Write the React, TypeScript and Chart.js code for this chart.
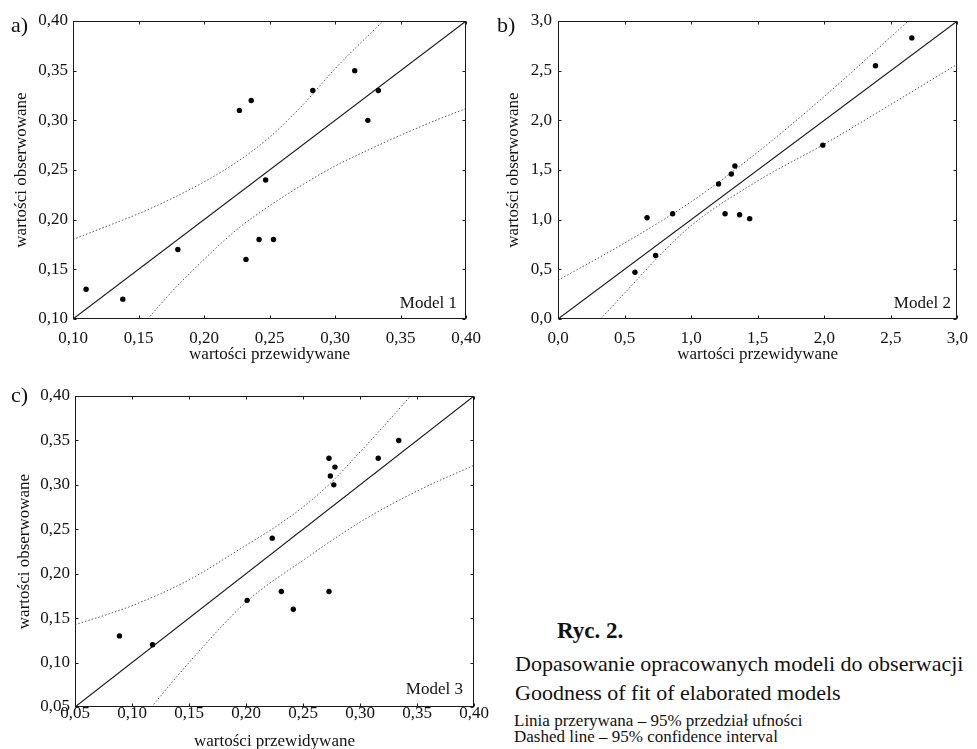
import React, { useEffect, useRef } from "react";
import { Chart, registerables } from "chart.js";

Chart.register(...registerables);

const FONT = "Liberation Serif, Times New Roman, serif";
Chart.defaults.font.family = FONT;
Chart.defaults.font.size = 17;
Chart.defaults.color = "#111";

// ---------- Panel a (Model 1) ----------
const aPredicted = [0.110, 0.138, 0.180, 0.227, 0.236, 0.232, 0.242, 0.247, 0.253, 0.283, 0.315, 0.325, 0.333];
const aObserved = [0.13, 0.12, 0.17, 0.31, 0.32, 0.16, 0.18, 0.24, 0.18, 0.33, 0.35, 0.30, 0.33];
const aUpperX = [0.10, 0.125, 0.15, 0.175, 0.20, 0.225, 0.25, 0.275, 0.30, 0.325, 0.34];
const aUpperY = [0.180, 0.193, 0.206, 0.221, 0.238, 0.258, 0.283, 0.315, 0.352, 0.385, 0.404];
const aLowerX = [0.157, 0.175, 0.20, 0.225, 0.25, 0.275, 0.30, 0.325, 0.35, 0.375, 0.40];
const aLowerY = [0.100, 0.127, 0.160, 0.190, 0.214, 0.235, 0.254, 0.270, 0.285, 0.299, 0.312];
const aTicks = [0.10, 0.15, 0.20, 0.25, 0.30, 0.35, 0.40];

// ---------- Panel b (Model 2) ----------
const bPredicted = [0.578, 0.669, 0.733, 0.861, 1.206, 1.255, 1.302, 1.329, 1.364, 1.440, 1.989, 2.385, 2.658];
const bObserved = [0.47, 1.02, 0.64, 1.06, 1.36, 1.06, 1.46, 1.54, 1.05, 1.01, 1.75, 2.55, 2.83];
const bUpperX = [0.0, 0.5, 1.0, 1.5, 2.0, 2.5, 2.64];
const bUpperY = [0.39, 0.765, 1.18, 1.68, 2.24, 2.84, 3.01];
const bLowerX = [0.32, 0.5, 0.75, 1.0, 1.5, 2.0, 2.5, 3.0];
const bLowerY = [0.0, 0.26, 0.62, 0.94, 1.39, 1.76, 2.16, 2.565];
const bTicks = [0.0, 0.5, 1.0, 1.5, 2.0, 2.5, 3.0];

// ---------- Panel c (Model 3) ----------
const cPredicted = [0.089, 0.118, 0.201, 0.223, 0.231, 0.2415, 0.2728, 0.2728, 0.274, 0.278, 0.277, 0.316, 0.334];
const cObserved = [0.13, 0.12, 0.17, 0.24, 0.18, 0.16, 0.33, 0.18, 0.31, 0.32, 0.30, 0.33, 0.35];
const cUpperX = [0.05, 0.10, 0.15, 0.20, 0.225, 0.25, 0.275, 0.30, 0.325, 0.345];
const cUpperY = [0.1425, 0.164, 0.193, 0.232, 0.252, 0.275, 0.303, 0.337, 0.372, 0.401];
const cLowerX = [0.117, 0.15, 0.20, 0.25, 0.30, 0.35, 0.40];
const cLowerY = [0.05, 0.10, 0.168, 0.215, 0.258, 0.293, 0.322];
const cTicks = [0.05, 0.10, 0.15, 0.20, 0.25, 0.30, 0.35, 0.40];

const xTitle = "wartości przewidywane";
const yTitle = "wartości obserwowane";

type PanelDef = {
  px: number[]; py: number[];
  ux: number[]; uy: number[];
  lx: number[]; ly: number[];
  ticks: number[]; decimals: number;
  w: number; h: number;
  yWidth: number; xHeight: number; padTop: number; padRight: number;
  xTickPad: number; xTitlePad: number; yTitlePad: number; yTickPad: number;
};

const zip = (xs: number[], ys: number[]) => xs.map((x, i) => ({ x, y: ys[i] }));

const framePlugin = {
  id: "frameTicks",
  afterDatasetsDraw(chart: any) {
    const { ctx, chartArea } = chart;
    const { left, right, top, bottom } = chartArea;
    const xs = chart.scales.x;
    const ys = chart.scales.y;
    ctx.save();
    ctx.strokeStyle = "#1a1a1a";
    ctx.lineWidth = 1;
    const L = Math.round(left) + 0.5;
    const R = Math.round(right) - 0.5;
    const T = Math.round(top) + 0.5;
    const B = Math.round(bottom) - 0.5;
    ctx.strokeRect(L, T, R - L, B - T);
    ctx.beginPath();
    xs.ticks.forEach((t: any) => {
      const p = Math.round(xs.getPixelForValue(t.value)) + 0.5;
      ctx.moveTo(p, B); ctx.lineTo(p, B - 3);
      ctx.moveTo(p, T); ctx.lineTo(p, T + 3);
    });
    ys.ticks.forEach((t: any) => {
      const p = Math.round(ys.getPixelForValue(t.value)) + 0.5;
      ctx.moveTo(L, p); ctx.lineTo(L + 3, p);
      ctx.moveTo(R, p); ctx.lineTo(R - 3, p);
    });
    ctx.stroke();
    ctx.restore();
  },
};

function Panel({ d }: { d: PanelDef }) {
  const ref = useRef<HTMLCanvasElement | null>(null);
  useEffect(() => {
    if (!ref.current) return;
    let chart: Chart | null = null;
    let cancelled = false;
    const min = d.ticks[0];
    const max = d.ticks[d.ticks.length - 1];
    const fmt = (v: any) => Number(v).toFixed(d.decimals).replace(".", ",");
    const tickFont = { family: FONT, size: 17, style: "normal", weight: "normal" };
    const build = () => {
      if (cancelled || !ref.current) return;
      chart = new Chart(ref.current, {
        type: "scatter",
        data: {
          datasets: [
            {
              data: zip(d.px, d.py),
              pointRadius: 2.7,
              pointHoverRadius: 2.7,
              backgroundColor: "#000",
              borderWidth: 0,
              showLine: false,
            },
            {
              data: [{ x: min, y: min }, { x: max, y: max }],
              showLine: true,
              borderColor: "#1a1a1a",
              borderWidth: 1.1,
              pointRadius: 0,
            },
            {
              data: zip(d.ux, d.uy),
              showLine: true,
              borderColor: "#555",
              borderWidth: 1,
              borderDash: [1.5, 2],
              pointRadius: 0,
              cubicInterpolationMode: "monotone",
            },
            {
              data: zip(d.lx, d.ly),
              showLine: true,
              borderColor: "#555",
              borderWidth: 1,
              borderDash: [1.5, 2],
              pointRadius: 0,
              cubicInterpolationMode: "monotone",
            },
          ],
        } as any,
        options: {
          animation: false,
          responsive: false,
          events: [],
          font: tickFont,
          layout: { padding: { top: d.padTop, right: d.padRight, left: 0, bottom: 0 } },
          plugins: { legend: { display: false }, tooltip: { enabled: false } },
          scales: {
            x: {
              type: "linear",
              min, max,
              grid: { display: false, drawTicks: false },
              border: { display: false },
              afterBuildTicks: (s: any) => { s.ticks = d.ticks.map((v) => ({ value: v })); },
              afterFit: (s: any) => { s.height = d.xHeight; },
              ticks: { color: "#111", font: tickFont, padding: d.xTickPad, maxRotation: 0, autoSkip: false, callback: fmt },
              title: { display: true, text: xTitle, color: "#111", font: tickFont, padding: { top: 0, bottom: d.xTitlePad } },
            },
            y: {
              type: "linear",
              min, max,
              grid: { display: false, drawTicks: false },
              border: { display: false },
              afterBuildTicks: (s: any) => { s.ticks = d.ticks.map((v) => ({ value: v })); },
              afterFit: (s: any) => { s.width = d.yWidth; },
              ticks: { color: "#111", font: tickFont, padding: d.yTickPad, autoSkip: false, callback: fmt },
              title: { display: true, text: yTitle, color: "#111", font: tickFont, padding: { top: d.yTitlePad, bottom: 0 } },
            },
          },
        } as any,
        plugins: [framePlugin],
      });
    };
    const fonts = (document as any).fonts;
    if (fonts && fonts.load) {
      fonts.load(`17px "Liberation Serif"`).then(build, build);
    } else {
      build();
    }
    return () => {
      cancelled = true;
      if (chart) chart.destroy();
    };
  }, [d]);
  return <canvas ref={ref} width={d.w} height={d.h} style={{ width: d.w, height: d.h, display: "block" }} />;
}

const panelA: PanelDef = {
  px: aPredicted, py: aObserved, ux: aUpperX, uy: aUpperY, lx: aLowerX, ly: aLowerY,
  ticks: aTicks, decimals: 2, w: 490, h: 370, yWidth: 73, xHeight: 51, padTop: 21, padRight: 16,
  xTickPad: 9, xTitlePad: 5, yTitlePad: 11, yTickPad: 5,
};
const panelB: PanelDef = {
  px: bPredicted, py: bObserved, ux: bUpperX, uy: bUpperY, lx: bLowerX, ly: bLowerY,
  ticks: bTicks, decimals: 1, w: 487, h: 370, yWidth: 68, xHeight: 51, padTop: 21, padRight: 13,
  xTickPad: 9, xTitlePad: 5, yTitlePad: 13, yTickPad: 6,
};
const panelC: PanelDef = {
  px: cPredicted, py: cObserved, ux: cUpperX, uy: cUpperY, lx: cLowerX, ly: cLowerY,
  ticks: cTicks, decimals: 2, w: 490, h: 379, yWidth: 75, xHeight: 42, padTop: 26, padRight: 16,
  xTickPad: -4, xTitlePad: -3, yTitlePad: 14, yTickPad: 5,
};

function Txt({ text, x, baseline, size, bold, right }: { text: string; x: number; baseline: number; size: number; bold?: boolean; right?: boolean }) {
  const top = baseline - 0.8375 * size;
  const style: React.CSSProperties = {
    position: "absolute",
    top,
    fontFamily: FONT,
    fontSize: size,
    lineHeight: `${size}px`,
    fontWeight: bold ? "bold" : "normal",
    whiteSpace: "nowrap",
    color: "#111",
  };
  if (right) {
    style.left = x - 400;
    style.width = 400;
    style.textAlign = "right";
  } else {
    style.left = x;
  }
  return <div style={style}>{text}</div>;
}

export default function App() {
  return (
    <div style={{ position: "fixed", left: 0, top: 0, width: 977, height: 749, background: "#fff", overflow: "hidden" }}>
      <div style={{ position: "absolute", left: 0, top: 0 }}><Panel d={panelA} /></div>
      <div style={{ position: "absolute", left: 490, top: 0 }}><Panel d={panelB} /></div>
      <div style={{ position: "absolute", left: 0, top: 370 }}><Panel d={panelC} /></div>

      <Txt text="a)" x={11} baseline={32} size={22} />
      <Txt text="b)" x={497} baseline={32} size={22} />
      <Txt text="c)" x={11} baseline={402} size={22} />

      <Txt text="Model 1" x={457} baseline={308} size={17} right />
      <Txt text="Model 2" x={951} baseline={308} size={17} right />
      <Txt text="Model 3" x={463} baseline={694} size={17} right />

      <Txt text="Ryc. 2." x={557} baseline={638} size={23} bold />
      <Txt text="Dopasowanie opracowanych modeli do obserwacji" x={515} baseline={671} size={22} />
      <Txt text="Goodness of fit of elaborated models" x={515} baseline={700} size={22} />
      <Txt text="Linia przerywana – 95% przedział ufności" x={514} baseline={726} size={17} />
      <Txt text="Dashed line – 95% confidence interval" x={514} baseline={742} size={17} />
    </div>
  );
}
